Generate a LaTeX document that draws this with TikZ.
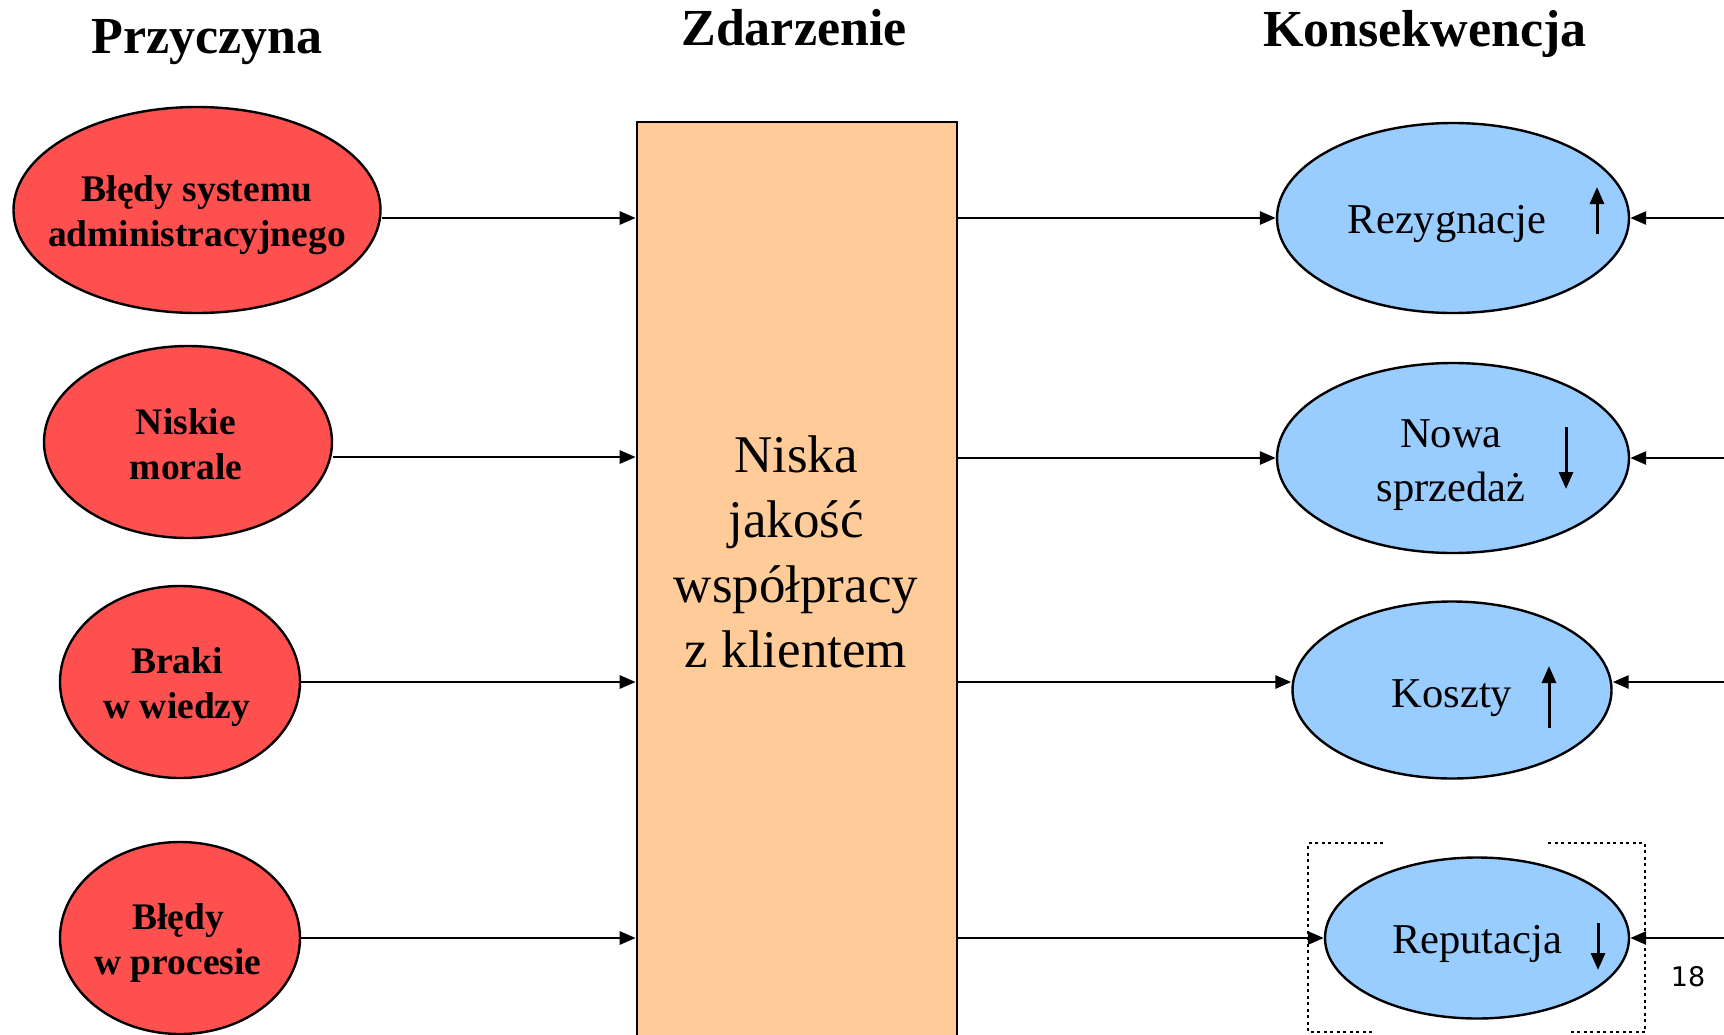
\documentclass[tikz,border=0pt]{standalone}
\usepackage{fontspec}
\setmainfont{Liberation Serif}
\newfontfamily\numfont{DejaVu Sans}
\usetikzlibrary{shapes.geometric,arrows.meta}

\definecolor{causered}{HTML}{FF5050}
\definecolor{effectblue}{HTML}{99CCFF}
\definecolor{eventpeach}{HTML}{FFCC99}

\begin{document}
\begin{tikzpicture}[x=1pt,y=-1pt,
  cause/.style={ellipse, draw, line width=2.4pt, fill=causered, inner sep=0pt},
  causetext/.style={align=center, font=\fontsize{37.5}{45}\selectfont\bfseries},
  effect/.style={ellipse, draw, line width=2.4pt, fill=effectblue, inner sep=0pt},
  efftext/.style={anchor=base, align=center, font=\fontsize{42.5}{54}\selectfont},
  heading/.style={anchor=base, font=\fontsize{52}{60}\selectfont\bfseries},
  flow/.style={line width=2.8pt, -{Triangle[length=16pt,width=13pt]}},
  trend/.style={line width=3pt, -{Triangle[length=17pt,width=14pt]}},
  frame/.style={line width=2.8pt, dash pattern=on 3pt off 3.5pt}
]
\useasboundingbox (0,0) rectangle (1724,1034);

% column headings
\node[heading] (hcause) at (207,53) {Przyczyna};
\node[heading] (hevent) at (794,45) {Zdarzenie};
\node[heading] (heffect) at (1425,46) {Konsekwencja};

% central event
\node[draw, line width=2.6pt, fill=eventpeach, minimum width=320, minimum height=918,
  inner sep=0pt] (box) at (797,581) {};
\node[align=center, font=\fontsize{53}{65}\selectfont] (evt) at (796,552)
  {Niska\\jakość\\współpracy\\z klientem};

% causes
\node[cause, minimum width=367, minimum height=206] (e1) at (197,210) {};
\node[cause, minimum width=288, minimum height=192] (e2) at (188,442) {};
\node[cause, minimum width=240, minimum height=192] (e3) at (180,682) {};
\node[cause, minimum width=240, minimum height=192] (e4) at (180,938) {};

\node[causetext] (c1) at (197,215) {Błędy systemu\\administracyjnego};
\node[causetext] (c2) at (186,444) {Niskie\\morale};
\node[causetext] (c3) at (177,687) {Braki\\w wiedzy};
\node[causetext] (c4) at (178,943) {Błędy\\w procesie};

% consequences
\node[effect, minimum width=352, minimum height=190] (f1) at (1453,218) {};
\node[effect, minimum width=352, minimum height=190] (f2) at (1453,458) {};
\node[effect, minimum width=319, minimum height=177] (f3) at (1452,690) {};
\node[effect, minimum width=304, minimum height=161] (f4) at (1477,938) {};

\node[efftext] (t1) at (1447,233) {Rezygnacje};
\node[efftext, anchor=center] (t2) at (1451,465) {Nowa\\sprzedaż};
\node[efftext] (t3) at (1452,707) {Koszty};
\node[efftext] (t4) at (1477,953) {Reputacja};

% trend arrows
\draw[trend] (1597,234) -- (1597,187);
\draw[trend] (1566,427) -- (1566,489);
\draw[trend] (1549,728) -- (1549,666);
\draw[trend] (1598,923) -- (1598,970);

% highlight frame around the last consequence
\draw[frame] (1383,843) -- (1308,843) -- (1308,1032) -- (1372,1032);
\draw[frame] (1548,843) -- (1645,843) -- (1645,1032) -- (1570,1032);

% cause -> event
\coordinate (a1) at ([yshift=-8pt]e1.east);
\coordinate (a2) at ([yshift=-15pt]e2.east);
\coordinate (a3) at (e3.east);
\coordinate (a4) at (e4.east);
\foreach \a in {a1,a2,a3,a4}
  \draw[flow] (\a) -- (\a -| box.west);

% event -> consequences
\coordinate (b3) at ([yshift=8pt]f3.west);
\coordinate (c3) at ([yshift=8pt]f3.east);
\draw[flow] (box.east |- f1.west) -- (f1.west);
\draw[flow] (box.east |- f2.west) -- (f2.west);
\draw[flow] (box.east |- b3) -- (b3);
\draw[flow] (box.east |- f4.west) -- (f4.west);

% feedback from the right
\coordinate (r1) at (1724,218);
\coordinate (r2) at (1724,458);
\coordinate (r3) at (1724,682);
\coordinate (r4) at (1724,938);
\draw[flow] (r1) -- (f1.east);
\draw[flow] (r2) -- (f2.east);
\draw[flow] (r3) -- (c3);
\draw[flow] (r4) -- (f4.east);

% page number
\node[font=\numfont\fontsize{27}{32}\selectfont] (pg) at (1688,977) {18};
\end{tikzpicture}
\end{document}
